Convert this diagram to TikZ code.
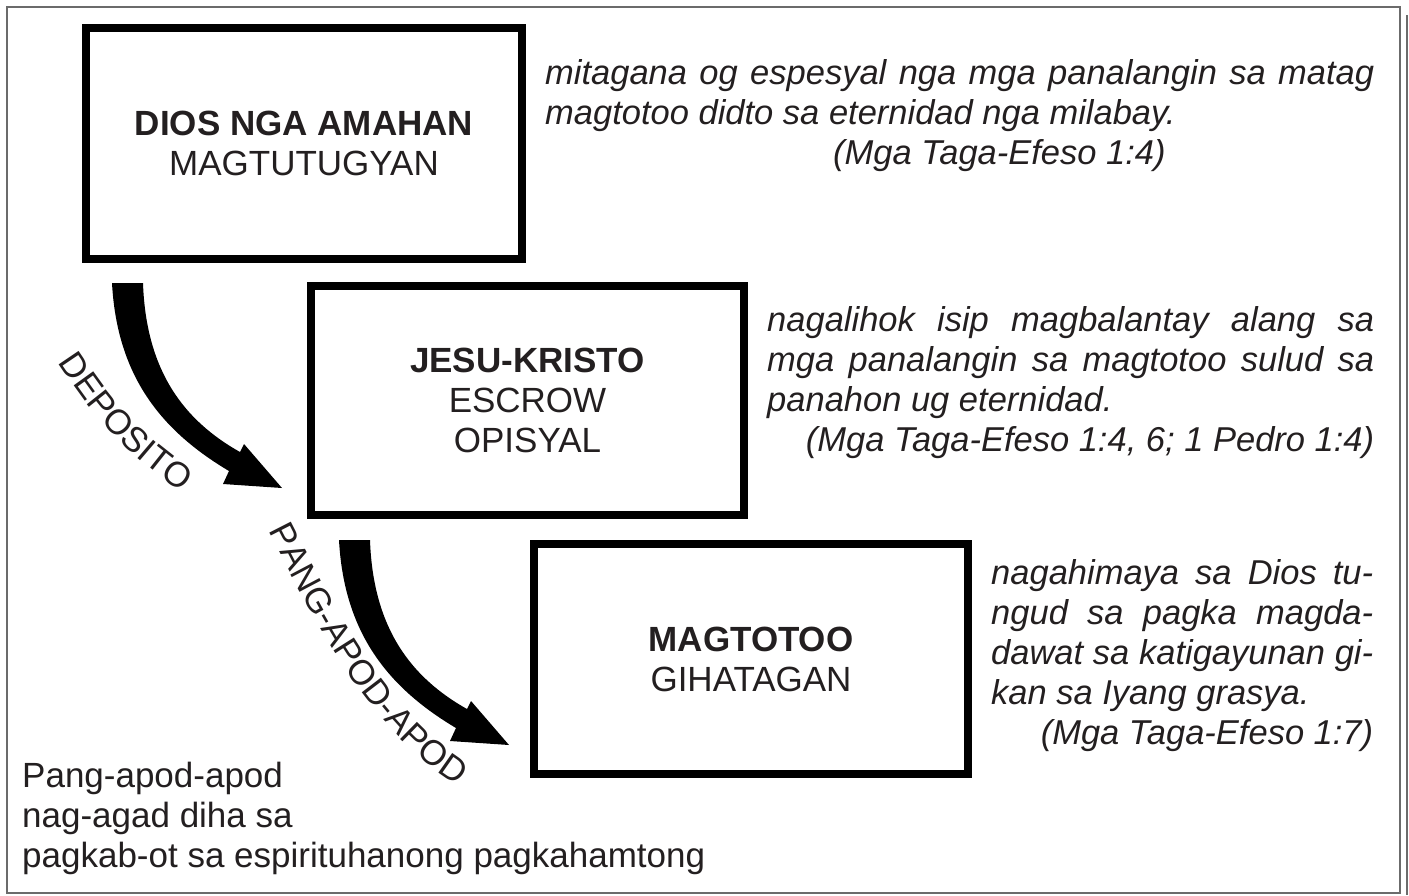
\documentclass[tikz,border=0pt]{standalone}
\usepackage{fontspec}
\setmainfont{Liberation Sans}
\usepackage{tikz}
\usetikzlibrary{decorations.text}
\definecolor{ink}{HTML}{231F20}
\definecolor{framegray}{HTML}{6B6B6B}
\newcommand{\bigfont}{\fontsize{35}{40}\selectfont}
\newcommand{\notefont}{\fontsize{34.5}{40}\selectfont\itshape}
\tikzset{
	box/.style={draw=black, line width=8pt, fill=white, align=center, font=\bigfont, text=ink, inner sep=0pt},
	note/.style={anchor=base west, inner sep=0pt, align=justify, font=\notefont, text=ink},
	plain/.style={anchor=base west, inner sep=0pt, align=left, font=\bigfont, text=ink}
}
\tolerance=9999
\hyphenpenalty=10000

\begin{document}
\begin{tikzpicture}[x=1pt, y=-1pt]
				\useasboundingbox (0,0) rectangle (1409,895);
				\draw [framegray, line width=1.8pt] (7,7) rectangle (1400,893);
				\draw [framegray, line width=1.8pt] (1407,15) -- (1407,895);
				\node [box, minimum width=436pt, minimum height=231pt] (dios) at (304,143.5) {\textbf{DIOS NGA AMAHAN}\\MAGTUTUGYAN};
				\node [box, minimum width=433pt, minimum height=229pt] (jesus) at (527.5,400.5) {\textbf{JESU-KRISTO}\\ESCROW\\OPISYAL};
				\node [box, minimum width=434pt, minimum height=230pt] (magtotoo) at (751,659) {\textbf{MAGTOTOO}\\GIHATAGAN};
				\node [note, text width=829pt] (eph1) at (545,84) {mitagana og espesyal nga mga panalangin sa matag\linebreak magtotoo didto sa eternidad nga milabay.\\\hspace*{288pt}(Mga Taga-Efeso 1:4)};
				\node [note, text width=607pt] (eph2) at (767,331) {nagalihok isip magbalantay alang sa\linebreak mga panalangin sa magtotoo sulud sa\linebreak panahon ug eternidad.\\\hspace*{\fill}(Mga Taga-Efeso 1:4, 6; 1 Pedro 1:4)};
				\node [note, text width=382pt] (eph3) at (991,584) {nagahimaya sa Dios tu-\linebreak ngud sa pagka magda-\linebreak dawat sa katigayunan gi-\linebreak kan sa Iyang grasya.\\\hspace*{\fill}(Mga Taga-Efeso 1:7)};
				\node [plain] (legend) at (22,867) {Pang-apod-apod\\nag-agad diha sa\\pagkab-ot sa espirituhanong pagkahamtong};
				\fill [black] (112,283) -- (143,283) .. controls (146,370) and (183,420) .. (240,452) -- (244,444) -- (282,488) -- (223,484) -- (229,471) .. controls (160,430) and (117,375) .. (112,283) -- cycle;
				\fill [black, shift={(227,257)}] (112,283) -- (143,283) .. controls (146,370) and (183,420) .. (240,452) -- (244,444) -- (282,488) -- (223,484) -- (229,471) .. controls (160,430) and (117,375) .. (112,283) -- cycle;
				\path [decorate, decoration={text along path, text align=center, text={|\bigfont\color{ink}|DEPOSITO}}] (50,350) .. controls (97,422) and (121,451) .. (194,500);
				\path [decorate, decoration={text along path, text align=center, text={|\bigfont\color{ink}|PANG-APOD-APOD}}] (259,512) .. controls (314,619) and (369,739) .. (475,796);
			\end{tikzpicture}
\end{document}
